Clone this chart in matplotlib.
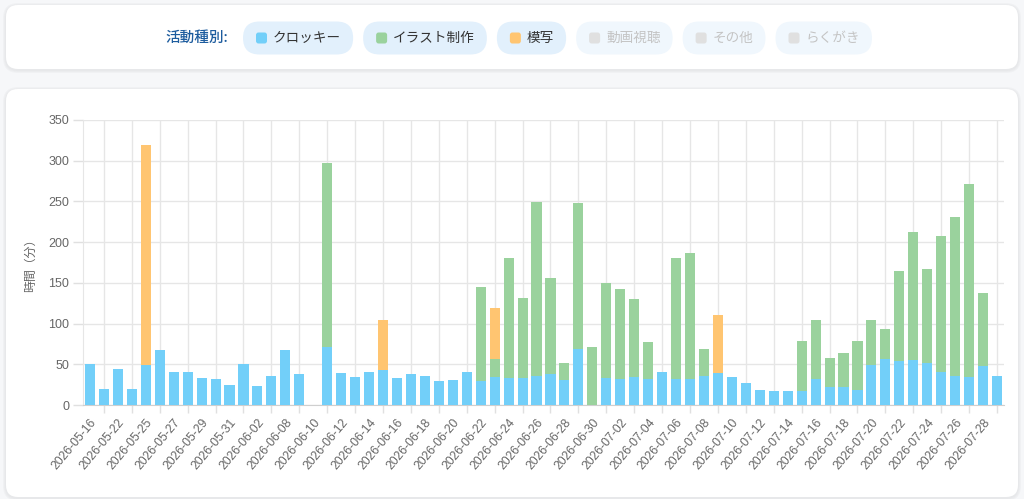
import matplotlib
matplotlib.use("Agg")
import matplotlib.pyplot as plt
from matplotlib.patches import FancyBboxPatch
from matplotlib.transforms import IdentityTransform
import numpy as np

plt.rcParams['font.family'] = ['Noto Sans CJK JP', 'DejaVu Sans']

dates = ["2026-05-16", "2026-05-19", "2026-05-22", "2026-05-23", "2026-05-25", "2026-05-26",
         "2026-05-27", "2026-05-28", "2026-05-29", "2026-05-30", "2026-05-31", "2026-06-01",
         "2026-06-02", "2026-06-05", "2026-06-08", "2026-06-09", "2026-06-10", "2026-06-11",
         "2026-06-12", "2026-06-13", "2026-06-14", "2026-06-15", "2026-06-16", "2026-06-17",
         "2026-06-18", "2026-06-19", "2026-06-20", "2026-06-21", "2026-06-22", "2026-06-23",
         "2026-06-24", "2026-06-25", "2026-06-26", "2026-06-27", "2026-06-28", "2026-06-29",
         "2026-06-30", "2026-07-01", "2026-07-02", "2026-07-03", "2026-07-04", "2026-07-05",
         "2026-07-06", "2026-07-07", "2026-07-08", "2026-07-09", "2026-07-10", "2026-07-11",
         "2026-07-12", "2026-07-13", "2026-07-14", "2026-07-15", "2026-07-16", "2026-07-17",
         "2026-07-18", "2026-07-19", "2026-07-20", "2026-07-21", "2026-07-22", "2026-07-23",
         "2026-07-24", "2026-07-25", "2026-07-26", "2026-07-27", "2026-07-28", "2026-07-29"]

croquis = [50, 20, 44, 20, 49, 68, 41, 41, 33, 32, 25, 50, 23, 36, 67, 38, 0, 71,
           39, 35, 41, 43, 33, 38, 36, 30, 31, 40, 30, 35, 33, 33, 36, 38, 31, 69,
           0, 33, 32, 34, 32, 40, 32, 32, 36, 39, 34, 27, 19, 17, 17, 17, 32, 22,
           22, 18, 49, 56, 54, 55, 51, 40, 36, 35, 48, 36]

illust = [0, 0, 0, 0, 0, 0, 0, 0, 0, 0, 0, 0, 0, 0, 0, 0, 0, 226,
          0, 0, 0, 0, 0, 0, 0, 0, 0, 0, 115, 22, 148, 98, 213, 118, 21, 179,
          71, 117, 111, 96, 45, 0, 149, 155, 33, 0, 0, 0, 0, 0, 0, 61, 72, 36,
          42, 61, 55, 37, 110, 157, 116, 167, 195, 236, 90, 0]

mosha = [0, 0, 0, 0, 270, 0, 0, 0, 0, 0, 0, 0, 0, 0, 0, 0, 0, 0,
         0, 0, 0, 62, 0, 0, 0, 0, 0, 0, 0, 62, 0, 0, 0, 0, 0, 0,
         0, 0, 0, 0, 0, 0, 0, 0, 0, 72, 0, 0, 0, 0, 0, 0, 0, 0,
         0, 0, 0, 0, 0, 0, 0, 0, 0, 0, 0, 0]

series_names = ["クロッキー", "イラスト制作", "模写", "動画視聴", "その他", "らくがき"]
series_colors = ["#72cff9", "#9ad29d", "#ffc571", "#dddddd", "#dddddd", "#dddddd"]
series_visible = [True, True, True, False, False, False]

W, H = 1024, 499
fig = plt.figure(figsize=(W / 100, H / 100), dpi=100)
fig.patch.set_facecolor("#f6f7f9")

def card(x0, ytop, x1, ybot, r=12):
    # px coordinates measured from top-left
    for i, a in enumerate([0.025, 0.02, 0.015]):
        g = 3 - i
        sh = FancyBboxPatch((x0 - g, H - ybot - g - 1), (x1 - x0) + 2 * g, (ybot - ytop) + 2 * g,
                            boxstyle=f"round,pad=0,rounding_size={r + g}",
                            transform=IdentityTransform(), facecolor="black", edgecolor="none",
                            alpha=a, zorder=0)
        fig.patches.append(sh)
    p = FancyBboxPatch((x0, H - ybot), x1 - x0, ybot - ytop,
                       boxstyle=f"round,pad=0,rounding_size={r}",
                       transform=IdentityTransform(), facecolor="white", edgecolor="none", zorder=1)
    fig.patches.append(p)

card(6, 5, 1018, 69)
card(6, 89, 1018, 497)

# Chart axes
left, right, top, bottom = 83, 1004, 120, 405
ax = fig.add_axes([left / W, (H - bottom) / H, (right - left) / W, (bottom - top) / H])
ax.set_facecolor("none")
ax.set_zorder(2)

x = np.arange(len(dates))
bw = 0.72
c = np.array(croquis)
g = np.array(illust)
m = np.array(mosha)
ax.bar(x, c, width=bw, color=series_colors[0], zorder=3, linewidth=0)
ax.bar(x, g, width=bw, bottom=c, color=series_colors[1], zorder=3, linewidth=0)
ax.bar(x, m, width=bw, bottom=c + g, color=series_colors[2], zorder=3, linewidth=0)

ax.set_xlim(-0.5, len(dates) - 0.5)
ax.set_ylim(0, 350)
ax.set_yticks(np.arange(0, 351, 50))
ax.grid(axis="y", color="#e6e6e6", linewidth=1, zorder=0)

tick_font = ['Liberation Sans', 'DejaVu Sans']
even = x[::2]
odd = x[1::2]
ax.set_xticks(even)
ax.set_xticklabels([dates[i] for i in even], rotation=50, ha="right", rotation_mode="anchor",
                   fontsize=8.8, color="#666666", family=tick_font)
ax.set_xticks(odd, minor=True)
ax.grid(axis="x", which="minor", color="#e6e6e6", linewidth=1, zorder=0)
ax.tick_params(axis="x", which="major", length=0, pad=8)
ax.tick_params(axis="x", which="minor", length=6, color="#e0e0e0", width=1)
ax.tick_params(axis="y", length=7, color="#e0e0e0", width=1, labelsize=9, labelcolor="#666666", pad=3)
for lbl in ax.get_yticklabels():
    lbl.set_family(tick_font)

for s in ["top", "right"]:
    ax.spines[s].set_visible(False)
ax.spines["left"].set_color("#e6e6e6")
ax.spines["bottom"].set_color("#cfcfcf")
ax.set_ylabel("時間（分）", fontsize=8.6, color="#666666")
ax.yaxis.set_label_coords((37 - left) / (right - left), 0.5)

# Legend (custom pills)
renderer = fig.canvas.get_renderer()
ycen = H - 38
lab = fig.text(228 / W, ycen / H, "活動種別:", ha="right", va="center", fontsize=10.5,
               color="#1d5c9e", fontweight="medium", zorder=5)
xcur = 243
for name, col, vis in zip(series_names, series_colors, series_visible):
    t = fig.text(0, 0, name, fontsize=9.8, va="center", ha="left",
                 color="#333333" if vis else "#c4c4c4", zorder=6)
    tw = t.get_window_extent(renderer).width
    pw = 30 + tw + 12
    pill = FancyBboxPatch((xcur, ycen - 16.5), pw, 33,
                          boxstyle="round,pad=0,rounding_size=16.5",
                          transform=IdentityTransform(),
                          facecolor="#e2f0fc" if vis else "#f0f7fd", edgecolor="none", zorder=3)
    fig.patches.append(pill)
    sq = FancyBboxPatch((xcur + 13, ycen - 5.5), 11, 11,
                        boxstyle="round,pad=0,rounding_size=2.5",
                        transform=IdentityTransform(),
                        facecolor=col if vis else "#e0e0e0", edgecolor="none", zorder=4)
    fig.patches.append(sq)
    t.set_position(((xcur + 30) / W, ycen / H))
    xcur += pw + 10

fig.savefig("out.png", dpi=100, facecolor=fig.get_facecolor())
